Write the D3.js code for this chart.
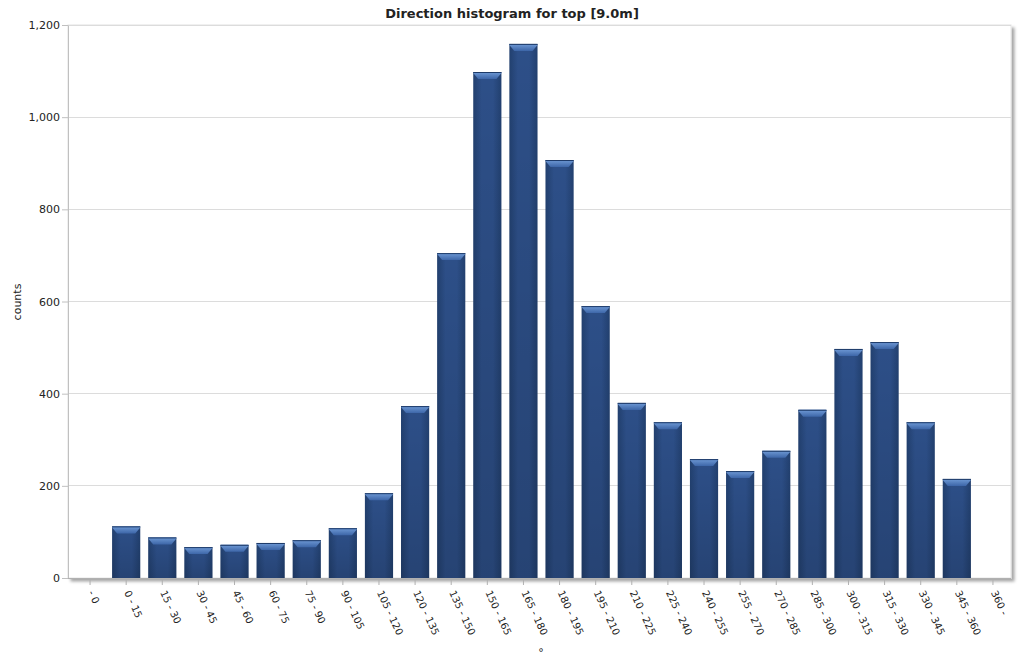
<!DOCTYPE html>
<html><head><meta charset="utf-8">
<script src="https://cdn.jsdelivr.net/npm/d3@7"></script>
<style>body{margin:0;background:#fff;} text{font-family:"DejaVu Sans",Verdana,sans-serif;}</style>
</head><body>
<svg id="c" width="1024" height="670"></svg>
<script>
const categories = ["- 0","0 - 15","15 - 30","30 - 45","45 - 60","60 - 75","75 - 90","90 - 105","105 - 120","120 - 135","135 - 150","150 - 165","165 - 180","180 - 195","195 - 210","210 - 225","225 - 240","240 - 255","255 - 270","270 - 285","285 - 300","300 - 315","315 - 330","330 - 345","345 - 360","360 -"];
const counts = [0,112,88,67,72,76,82,108,184,373,705,1098,1159,907,590,380,338,258,232,276,365,497,512,338,215,0];
const yTicks = [0,200,400,600,800,1000,1200];
const title = "Direction histogram for top [9.0m]";

const svg = d3.select("#c");
const L = 68, R = 1011, T = 25, B = 578;
const x = d3.scaleBand().domain(categories).range([L + 4, R]).paddingInner(0.22).paddingOuter(0.11);
const y = d3.scaleLinear().domain([0, 1200]).range([B, T]);

const defs = svg.append("defs");
const f = defs.append("filter").attr("id","sh").attr("x","-5%").attr("y","-5%").attr("width","110%").attr("height","110%");
f.append("feDropShadow").attr("dx",3).attr("dy",3).attr("stdDeviation",1.5).attr("flood-color","#000").attr("flood-opacity",0.35);

const gb = defs.append("linearGradient").attr("id","gb").attr("x1",0).attr("x2",1).attr("y1",0).attr("y2",0);
gb.append("stop").attr("offset","0%").attr("stop-color","#22406f");
gb.append("stop").attr("offset","30%").attr("stop-color","#2d4f88");
gb.append("stop").attr("offset","70%").attr("stop-color","#2d4f88");
gb.append("stop").attr("offset","100%").attr("stop-color","#22406f");
const gv = defs.append("linearGradient").attr("id","gv").attr("x1",0).attr("x2",0).attr("y1",0).attr("y2",1);
gv.append("stop").attr("offset","0%").attr("stop-color","#000").attr("stop-opacity",0);
gv.append("stop").attr("offset","100%").attr("stop-color","#000").attr("stop-opacity",0.15);
const gt = defs.append("linearGradient").attr("id","gt").attr("x1",0).attr("x2",0).attr("y1",0).attr("y2",1);
gt.append("stop").attr("offset","0%").attr("stop-color","#6f9ad6");
gt.append("stop").attr("offset","100%").attr("stop-color","#3d66a8");

svg.append("rect").attr("x",L).attr("y",T).attr("width",R-L).attr("height",B-T)
  .attr("fill","#fff").attr("stroke","#e4e4e4").attr("filter","url(#sh)");

svg.append("g").selectAll("line").data(yTicks.filter(d=>d>0)).join("line")
  .attr("x1",L).attr("x2",R).attr("y1",d=>y(d)).attr("y2",d=>y(d))
  .attr("stroke","#dcdcdc").attr("stroke-width",1).attr("shape-rendering","crispEdges");

const bars = svg.append("g").selectAll("g").data(categories.map((c,i)=>({c,v:counts[i]})).filter(d=>d.v>0)).join("g");
bars.append("rect").attr("x",d=>x(d.c)).attr("width",x.bandwidth()).attr("y",d=>y(d.v)).attr("height",d=>B-y(d.v)).attr("fill","url(#gb)");
bars.append("rect").attr("x",d=>x(d.c)).attr("width",x.bandwidth()).attr("y",d=>y(d.v)).attr("height",d=>B-y(d.v)).attr("fill","url(#gv)");
bars.append("path").attr("d",d=>{
  const x0 = x(d.c), w = x.bandwidth(), y0 = y(d.v), h = 7, i = 5;
  return `M${x0},${y0+1}Q${x0},${y0} ${x0+1},${y0}L${x0+w-1},${y0}Q${x0+w},${y0} ${x0+w},${y0+1}L${x0+w-i},${y0+h}L${x0+i},${y0+h}Z`;
}).attr("fill","url(#gt)");
bars.append("line").attr("x1",d=>x(d.c)).attr("x2",d=>x(d.c)+x.bandwidth()).attr("y1",d=>y(d.v)+0.5).attr("y2",d=>y(d.v)+0.5).attr("stroke","#1d3a68").attr("stroke-width",1);

const ya = svg.append("g").attr("transform",`translate(${L},0)`)
  .call(d3.axisLeft(y).tickValues(yTicks).tickSize(6).tickSizeOuter(0).tickFormat(d3.format(",")));
ya.select(".domain").attr("stroke","#c0c0c0");
ya.selectAll(".tick line").attr("stroke","#c0c0c0");
ya.selectAll("text").attr("fill","#222").style("font-size","11px").attr("x",-8);

const xa = svg.append("g").attr("transform",`translate(0,${B})`)
  .call(d3.axisBottom(x).tickSize(5).tickSizeOuter(0));
xa.select(".domain").attr("stroke","#b0b0b0").attr("d",`M${L},0.5H${R}`);
xa.selectAll(".tick line").attr("stroke","#b0b0b0").attr("y1",2).attr("y2",7);
xa.selectAll("text").attr("fill","#222").style("font-size","10px")
  .attr("text-anchor","start").attr("dy","0.35em")
  .attr("transform","translate(1,13) rotate(65)").attr("x",0).attr("y",0);

svg.append("text").attr("x",512).attr("y",18).attr("text-anchor","middle")
  .style("font-size","13px").style("font-weight","bold").attr("fill","#222").text(title);
svg.append("text").attr("transform","translate(21,302) rotate(-90)").attr("text-anchor","middle")
  .style("font-size","11px").attr("fill","#222").text("counts");
svg.append("text").attr("x",541).attr("y",656).attr("text-anchor","middle")
  .style("font-size","11px").attr("fill","#222").text("°");
</script>
</body></html>
